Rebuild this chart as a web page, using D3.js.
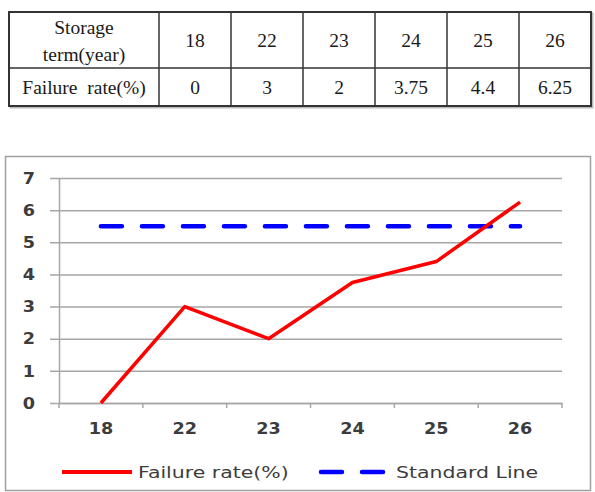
<!DOCTYPE html>
<html><head><meta charset="utf-8">
<script src="https://cdn.jsdelivr.net/npm/d3@7"></script>
<style>html,body{margin:0;padding:0;background:#fff;}svg{display:block;}</style>
</head><body>
<script>
// ---- data ----
const categories = ["18", "22", "23", "24", "25", "26"];
const failureRate = [0, 3, 2, 3.75, 4.4, 6.25];
const standardLine = [5.5, 5.5, 5.5, 5.5, 5.5, 5.5];
const yTicks = [0, 1, 2, 3, 4, 5, 6, 7];
const tableRowHeaders = [["Storage", "term(year)"], ["Failure  rate(%)"]];
const tableFailureLabels = ["0", "3", "2", "3.75", "4.4", "6.25"];
const seriesNames = ["Failure rate(%)", "Standard Line"];

const W = 595, H = 492;
const svg = d3.select("body").append("svg").attr("width", W).attr("height", H);

// ---- table ----
const tbl = {x0: 9, x1: 591, y0: 12, ym: 68, y1: 106, c1: 159};
const colScale = d3.scaleBand().domain(categories).range([tbl.c1, tbl.x1]);
const tg = svg.append("g");
tg.append("rect").attr("x", tbl.x0 + 1.5).attr("y", tbl.y0 + 1.5)
  .attr("width", tbl.x1 - tbl.x0).attr("height", tbl.y1 - tbl.y0)
  .attr("fill", "none").attr("stroke", "#bbb").attr("stroke-width", 2);
tg.append("rect").attr("x", tbl.x0).attr("y", tbl.y0)
  .attr("width", tbl.x1 - tbl.x0).attr("height", tbl.y1 - tbl.y0)
  .attr("fill", "#fff").attr("stroke", "#333").attr("stroke-width", 2);
tg.append("line").attr("x1", tbl.x0).attr("x2", tbl.x1).attr("y1", tbl.ym).attr("y2", tbl.ym)
  .attr("stroke", "#333").attr("stroke-width", 1.5);
tg.selectAll("line.col").data(categories).enter().append("line").attr("class", "col")
  .attr("x1", d => colScale(d)).attr("x2", d => colScale(d))
  .attr("y1", tbl.y0).attr("y2", tbl.y1).attr("stroke", "#333").attr("stroke-width", 1.5);
function tText(x, y, s) {
  return tg.append("text").attr("x", x).attr("y", y).attr("text-anchor", "middle")
    .attr("dominant-baseline", "central").attr("fill", "#1a1a1a")
    .attr("font-family", "'Liberation Serif', 'Times New Roman', serif")
    .attr("font-size", 19.5).style("white-space", "pre").text(s);
}
const r1c = (tbl.y0 + tbl.ym) / 2, r2c = (tbl.ym + tbl.y1) / 2;
const c0 = (tbl.x0 + tbl.c1) / 2;
tText(c0, r1c - 13, tableRowHeaders[0][0]);
tText(c0, r1c + 14, tableRowHeaders[0][1]);
tText(c0, r2c, tableRowHeaders[1][0]);
categories.forEach((c, i) => {
  tText(colScale(c) + colScale.bandwidth() / 2, r1c, c);
  tText(colScale(c) + colScale.bandwidth() / 2, r2c, tableFailureLabels[i]);
});

// ---- chart ----
svg.append("rect").attr("x", 5.5).attr("y", 156.5).attr("width", 585).attr("height", 334)
  .attr("fill", "#fff").attr("stroke", "#a0a0a0").attr("stroke-width", 1.5);

const plot = {l: 59, r: 562, t: 178, b: 403};
const x = d3.scaleBand().domain(categories).range([plot.l, plot.r]);
const y = d3.scaleLinear().domain([0, 7]).range([plot.b, plot.t]);
const cx = d => x(d) + x.bandwidth() / 2;
const SX = 1.1;
const axisColor = "#3c3c3c";
const gridColor = "#a6a6a6";

// gridlines + y ticks
const yAxis = d3.axisLeft(y).tickValues(yTicks).tickSize(0).tickFormat(d3.format("d"));
const gy = svg.append("g").attr("transform", `translate(${plot.l},0)`).call(yAxis);
gy.select(".domain").attr("stroke", gridColor).attr("stroke-width", 1.5);
gy.selectAll(".tick text").remove();
gy.selectAll(".tick").append("line").attr("x1", -9).attr("x2", plot.r - plot.l)
  .attr("stroke", gridColor).attr("stroke-width", 1.5);
yTicks.forEach(v => {
  svg.append("text").attr("transform", `translate(35,${y(v)}) scale(${SX},1)`)
    .attr("text-anchor", "end").attr("dominant-baseline", "central")
    .attr("font-family", "'DejaVu Sans', Verdana, sans-serif").attr("font-weight", "bold")
    .attr("font-size", 16).attr("fill", axisColor).text(v);
});

// x axis
const xAxis = d3.axisBottom(x).tickSize(0).tickFormat("");
const gx = svg.append("g").attr("transform", `translate(0,${plot.b})`).call(xAxis);
gx.select(".domain").attr("stroke", gridColor).attr("stroke-width", 1.5);
gx.selectAll(".tick").remove();
const bounds = categories.map(c => x(c)).concat([plot.r]);
gx.selectAll("line.xt").data(bounds).enter().append("line").attr("class", "xt")
  .attr("x1", d => d).attr("x2", d => d).attr("y1", 0).attr("y2", 5)
  .attr("stroke", gridColor).attr("stroke-width", 1.5);
categories.forEach(c => {
  svg.append("text").attr("transform", `translate(${cx(c)},${428}) scale(${SX},1)`)
    .attr("text-anchor", "middle").attr("dominant-baseline", "central")
    .attr("font-family", "'DejaVu Sans', Verdana, sans-serif").attr("font-weight", "bold")
    .attr("font-size", 16).attr("fill", axisColor).text(c);
});

// series
const line = d3.line().x((d, i) => cx(categories[i])).y(d => y(d));
svg.append("path").datum(standardLine).attr("d", line).attr("fill", "none")
  .attr("stroke", "#0000ff").attr("stroke-width", 4.5).attr("stroke-dasharray", "21,20")
  .attr("stroke-linecap", "round");
svg.append("path").datum(failureRate).attr("d", line).attr("fill", "none")
  .attr("stroke", "#ff0000").attr("stroke-width", 3.5).attr("stroke-linejoin", "round");

// legend
const ly = 472;
svg.append("line").attr("x1", 62).attr("x2", 132).attr("y1", ly).attr("y2", ly)
  .attr("stroke", "#ff0000").attr("stroke-width", 4);
svg.append("line").attr("x1", 321).attr("x2", 384).attr("y1", ly).attr("y2", ly)
  .attr("stroke", "#0000ff").attr("stroke-width", 4.5).attr("stroke-dasharray", "21,20")
  .attr("stroke-linecap", "round");
[[138, seriesNames[0]], [396, seriesNames[1]]].forEach(([lx, s]) => {
  svg.append("text").attr("transform", `translate(${lx},${ly}) scale(1.24,1)`)
    .attr("dominant-baseline", "central")
    .attr("font-family", "'DejaVu Sans', Verdana, sans-serif")
    .attr("font-size", 16.5).attr("fill", axisColor).text(s);
});
</script>
</body></html>
